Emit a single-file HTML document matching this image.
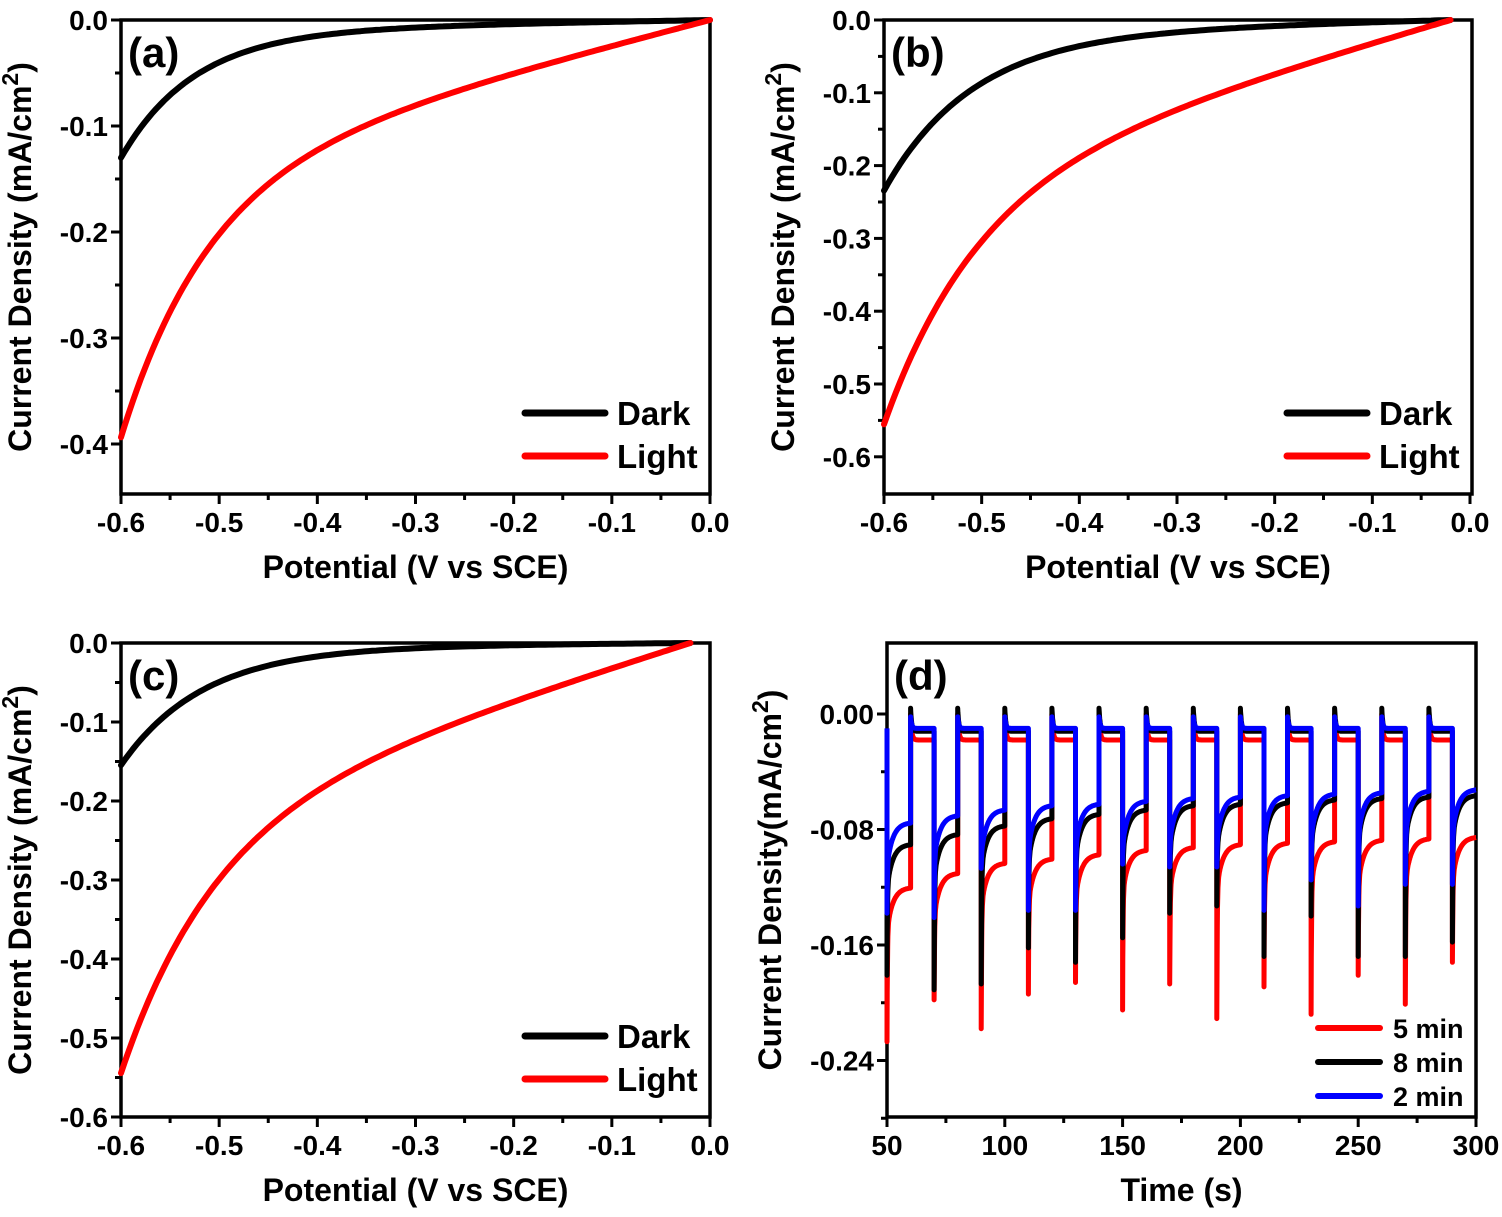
<!DOCTYPE html>
<html><head><meta charset="utf-8"><style>
body{margin:0;background:#fff}
svg text{font-family:"Liberation Sans",Arial,sans-serif;font-weight:bold;fill:#000}
</style></head><body>
<svg id="s" width="1502" height="1212" xmlns="http://www.w3.org/2000/svg"></svg>
<script>
const S=document.getElementById('s');let h='';
function axes(c){
 const {x0,x1,y0,y1}=c;
 h+=`<rect x="${x0}" y="${y0}" width="${x1-x0}" height="${y1-y0}" fill="none" stroke="#000" stroke-width="3.5"/>`;
 c.xt.forEach((t,i)=>{const x=c.fx(t.v);h+=`<line x1="${x}" y1="${y1}" x2="${x}" y2="${y1+(t.m?6:10)}" stroke="#000" stroke-width="3"/>`;
  if(!t.m)h+=`<text x="${x}" y="${y1+38}" font-size="28" text-anchor="middle">${t.l}</text>`;});
 c.yt.forEach(t=>{const y=c.fy(t.v);h+=`<line x1="${x0}" y1="${y}" x2="${x0-(t.m?6:10)}" y2="${y}" stroke="#000" stroke-width="3"/>`;
  if(!t.m)h+=`<text x="${x0-13}" y="${y+10}" font-size="28" text-anchor="end">${t.l}</text>`;});
 h+=`<text x="${(x0+x1)/2}" y="${y1+84}" font-size="32" text-anchor="middle">${c.xl}</text>`;
 h+=`<text transform="translate(${c.ylx},${(y0+y1)/2}) rotate(-90)" font-size="32" text-anchor="middle">${c.yl}</text>`;
 h+=`<text x="${x0+7}" y="${y0+47}" font-size="42">${c.tag}</text>`;
}
function xticks(){const a=[];for(let i=0;i<=12;i++){const v=-0.6+i*0.05;a.push({v,m:i%2==1,l:(i==12?'0.0':v.toFixed(1))});}return a;}
function ivPanel(o){
 const fx=v=>o.x0+(v+0.6)/0.6*(o.xz-o.x0), fy=j=>o.yz+(-j)*o.sc;
 const yt=[];for(let k=0;k<=o.nt*2;k++){const v=-k*0.05;if(fy(v)>o.y1+1)break;yt.push({v,m:k%2==1,l:(k==0?'0.0':v.toFixed(1))});}
 const c={x0:o.x0,x1:o.x1,y0:o.y0,y1:o.y1,fx,fy,xt:xticks(),yt,xl:'Potential (V vs SCE)',yl:'Current Density (mA/cm<tspan baseline-shift="super" font-size="23">2</tspan>)',ylx:o.x0-90,tag:o.tag};
 axes(c);
 const Ve=o.ve;
 const curve=(B,t,L,col)=>{let d='';for(let V=-0.6;V<=Ve+1e-9;V+=0.004){const j=-(B*(Math.exp(-(V+0.6)/t)-Math.exp(-(Ve+0.6)/t))+L*(Ve-V));d+=(d?'L':'M')+fx(V).toFixed(1)+','+fy(j).toFixed(1);}
  h+=`<path d="${d}" fill="none" stroke="${col}" stroke-width="6" stroke-linecap="round" stroke-linejoin="round"/>`;};
 curve(o.d[0],o.d[1],o.d[2],'#000');curve(o.l[0],o.l[1],o.l[2],'#f00');
 const lx=o.x1-185,ly=o.legY;
 h+=`<line x1="${lx}" y1="${ly}" x2="${lx+80}" y2="${ly}" stroke="#000" stroke-width="7" stroke-linecap="round"/><text x="${lx+92}" y="${ly+12}" font-size="33">Dark</text>`;
 h+=`<line x1="${lx}" y1="${ly+43}" x2="${lx+80}" y2="${ly+43}" stroke="#f00" stroke-width="7" stroke-linecap="round"/><text x="${lx+92}" y="${ly+55}" font-size="33">Light</text>`;
}
ivPanel({x0:121,x1:710,xz:710,y0:20,y1:494,yz:20,sc:1060,nt:4,tag:'(a)',legY:413,ve:0,
 d:[0.12,0.075,0.0167],l:[0.25,0.09,0.24]});
ivPanel({x0:884,x1:1472,xz:1470,y0:20,y1:494,yz:20,sc:728,nt:6,tag:'(b)',legY:413,ve:-0.02,
 d:[0.215,0.09,0.034],l:[0.33,0.097,0.39]});
ivPanel({x0:121,x1:710,xz:710,y0:643,y1:1117,yz:643,sc:790,nt:6,tag:'(c)',legY:1036,ve:-0.02,
 d:[0.149,0.083,0.01],l:[0.319,0.096,0.39]});
// panel d
(function(){
 const x0=887,x1=1476,y0=643,y1=1117;
 const fx=t=>x0+(t-50)/250*(x1-x0), fy=j=>714-j/0.08*115.5;
 const xt=[];for(let t=50;t<=300;t+=25)xt.push({v:t,m:(t%50!=0),l:t});
 const yt=[];for(let k=0;k<=7;k++){const v=-k*0.04;yt.push({v,m:k%2==1,l:v.toFixed(2)});}
 axes({x0,x1,y0,y1,fx,fy,xt,yt,xl:'Time (s)',yl:'Current Density(mA/cm<tspan baseline-shift="super" font-size="23">2</tspan>)',ylx:x0-106,tag:'(d)'});
 const ser=[
  {c:'#f00',D:-0.018,O:0.0,P:[-0.120,-0.110,-0.103,-0.100,-0.097,-0.094,-0.092,-0.090,-0.089,-0.088,-0.087,-0.086,-0.085],
   S:[-0.227,-0.198,-0.218,-0.194,-0.186,-0.205,-0.187,-0.211,-0.189,-0.208,-0.181,-0.201,-0.172]},
  {c:'#000',D:-0.012,O:0.004,P:[-0.090,-0.083,-0.077,-0.072,-0.069,-0.066,-0.063,-0.062,-0.061,-0.059,-0.058,-0.057,-0.056],
   S:[-0.181,-0.191,-0.187,-0.162,-0.172,-0.155,-0.138,-0.133,-0.168,-0.140,-0.168,-0.168,-0.158]},
  {c:'#00f',D:-0.010,O:-0.002,P:[-0.075,-0.070,-0.066,-0.063,-0.062,-0.060,-0.058,-0.057,-0.056,-0.055,-0.054,-0.053,-0.052],
   S:[-0.138,-0.141,-0.107,-0.136,-0.136,-0.104,-0.106,-0.106,-0.136,-0.115,-0.133,-0.118,-0.118]}];
 ser.forEach(s=>{
  let d='';const pt=(t,j)=>{d+=(d?'L':'M')+fx(t).toFixed(1)+','+fy(j).toFixed(1);};
  pt(50,s.D);
  for(let k=0;k<13;k++){const t0=50+20*k;const P=s.P[k],S=s.S[k],A=0.03;
   const end=Math.min(10,300-t0);
   for(let dt=0;dt<=end+1e-9;dt+=0.1){const j=P-A*Math.exp(-dt/2.5)+(S-(P-A))*Math.exp(-dt/0.18);pt(t0+dt,j);}
   if(t0+10<300){for(let dt=0;dt<=10;dt+=0.1){const j=s.D+(s.O-s.D)*Math.exp(-dt/0.5);pt(t0+10+dt,j);}}
  }
  h+=`<path d="${d}" fill="none" stroke="${s.c}" stroke-width="5" stroke-linejoin="round"/>`;
 });
 const lx=1318,ly=1028;
 [['#f00','5 min'],['#000','8 min'],['#00f','2 min']].forEach((a,i)=>{
  h+=`<line x1="${lx}" y1="${ly+i*34}" x2="${lx+62}" y2="${ly+i*34}" stroke="${a[0]}" stroke-width="6" stroke-linecap="round"/><text x="${lx+75}" y="${ly+i*34+10}" font-size="27">${a[1]}</text>`;});
})();
S.innerHTML=h;
</script>
</body></html>
